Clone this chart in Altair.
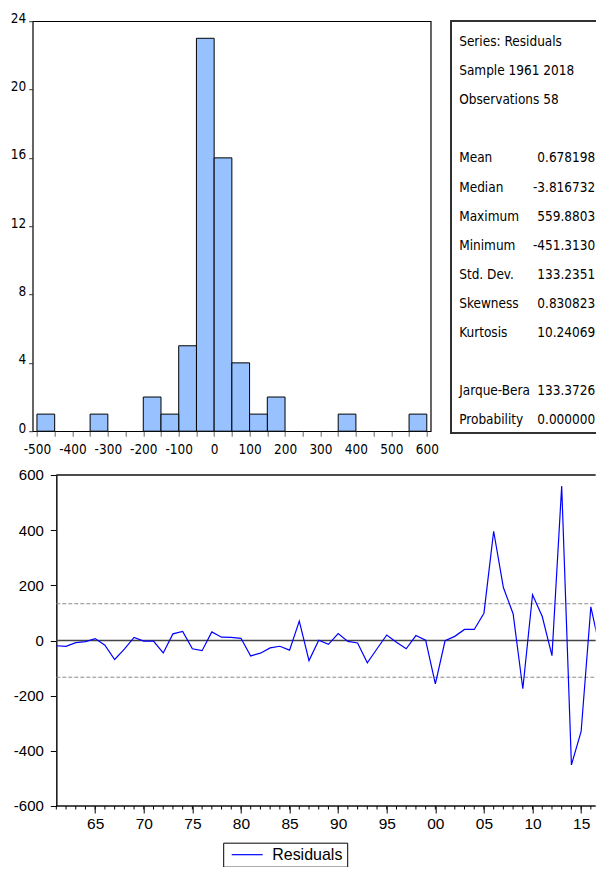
import altair as alt
import pandas as pd

years = list(range(1961, 2019))
residuals = [-19, -21, -8, -4.1, 7, -17, -69, -31, 11, -2,
             -2, -45, 24, 33, -30, -37, 31, 12, 11, 8,
             -56, -46, -27, -21, -35, 70, -73, 1, -14, 25,
             -3.5, -9, -81, -30, 20, -6, -30, 18, 1, -157,
             -1, 15, 40, 40, 99, 396, 192, 97, -175, 166,
             87, -55, 560, -451, -330, 122, -40, -120]

hist_ticks = list(range(-500, 601, 50))
hist_yticks = [0, 4, 8, 12, 16, 20, 24]
line_yticks = [-600, -400, -200, 0, 200, 400, 600]
major_years = [1965, 1970, 1975, 1980, 1985, 1990, 1995, 2000, 2005, 2010, 2015]
minor_years = list(range(1961, 2018))
std_dev = 133.2351

stat_labels = ["Series: Residuals", "Sample 1961 2018", "Observations 58", "",
               "Mean", "Median", "Maximum", "Minimum", "Std. Dev.", "Skewness",
               "Kurtosis", "", "Jarque-Bera", "Probability"]
stat_values = ["", "", "", "", "0.678198", "-3.816732", "559.8803", "-451.3130",
               "133.2351", "0.830823", "10.24069", "", "133.3726", "0.000000"]

NARROW = "DejaVu Sans Condensed, Liberation Sans Narrow, sans-serif"
SANS = "Liberation Sans, Arial, sans-serif"

# ---------- histogram ----------
hist_df = pd.DataFrame({"Residuals": residuals})
hist = alt.Chart(hist_df).transform_bin(
    ["bin_start", "bin_end"], "Residuals", bin=alt.Bin(extent=[-500, 600], step=50)
).transform_aggregate(
    count="count()", groupby=["bin_start", "bin_end"]
).mark_bar(fill="#97C1FF", stroke="black", strokeWidth=1).encode(
    x=alt.X("bin_start:Q", title=None,
            scale=alt.Scale(domain=[-512, 611], nice=False, zero=False),
            axis=alt.Axis(values=hist_ticks, labelExpr="datum.value % 100 == 0 ? toString(datum.value) : ''",
                          labelFont=NARROW, labelFontSize=13.5, labelColor="black",
                          tickColor="#666", tickSize=5, labelPadding=6, domain=False,
                          grid=False, labelOverlap=False, labelFlush=False)),
    x2="bin_end:Q",
    y=alt.Y("count:Q", title=None,
            scale=alt.Scale(domain=[0, 24], nice=False),
            axis=alt.Axis(values=hist_yticks, labelFont=NARROW, labelFontSize=13.5,
                          labelColor="black", tickColor="#333", tickSize=4, labelPadding=3,
                          labelBaseline="middle", labelOffset=-3, domain=False, grid=False,
                          labelFlush=False)),
    y2=alt.datum(0),
).properties(width=398, height=410,
             view=alt.ViewBackground(stroke="black", strokeWidth=1.2))

# ---------- statistics box ----------
SW, SH = 145, 412
stats_df = pd.DataFrame({"row": list(range(len(stat_labels))),
                         "label": stat_labels, "value": stat_values})
stats_base = alt.Chart(stats_df).encode(
    y=alt.Y("row:Q", scale=alt.Scale(domain=[-0.72, 13.45], reverse=True, nice=False, zero=False), axis=None)
)
stats_lab = stats_base.mark_text(align="left", baseline="middle", font=NARROW, fontSize=13.5,
                                 color="black").encode(x=alt.value(8.5), text="label:N")
stats_val = stats_base.mark_text(align="right", baseline="middle", font=NARROW, fontSize=13.5,
                                 color="black").encode(x=alt.value(SW - 0.5), text="value:N")
box_top = alt.Chart(stats_df).mark_rule(color="#333", strokeWidth=1.2).encode(
    x=alt.value(0), x2=alt.value(SW), y=alt.value(0))
box_bot = alt.Chart(stats_df).mark_rule(color="#333", strokeWidth=1.2).encode(
    x=alt.value(0), x2=alt.value(SW), y=alt.value(SH))
box_left = alt.Chart(stats_df).mark_rule(color="#333", strokeWidth=1.2).encode(
    x=alt.value(0), y=alt.value(0), y2=alt.value(SH))
stats = alt.layer(box_top, box_bot, box_left, stats_lab, stats_val).properties(
    width=SW, height=SH, view=alt.ViewBackground(strokeWidth=0, stroke=None))

row1 = alt.hconcat(hist, stats, spacing=20, bounds="flush")

# ---------- residual line ----------
line_df = pd.DataFrame({"Year": years, "Residuals": residuals, "Series": ["Residuals"] * len(years)})
ref_df = pd.DataFrame({"level": [std_dev, -std_dev]})
zero_df = pd.DataFrame({"level": [0]})
border_df = pd.DataFrame({"level": [600, -600]})
minor_df = pd.DataFrame({"Year": minor_years})

LW, LH = 563, 331
X0 = 1958.57
X1 = X0 + LW / 9.719
xscale = alt.Scale(domain=[X0, X1], nice=False, zero=False)
yscale = alt.Scale(domain=[-600, 600], nice=False)

dashed = alt.Chart(ref_df).mark_rule(color="#8c8c8c", strokeWidth=1, strokeDash=[4, 2]).encode(
    y=alt.Y("level:Q", scale=yscale), x=alt.datum(1961), x2=alt.datum(X1))
zero = alt.Chart(zero_df).mark_rule(color="#444", strokeWidth=1.4).encode(
    y=alt.Y("level:Q", scale=yscale), x=alt.datum(1961), x2=alt.datum(X1))
border = alt.Chart(border_df).mark_rule(color="#111", strokeWidth=1.5).encode(
    y=alt.Y("level:Q", scale=yscale), x=alt.datum(1961), x2=alt.datum(X1))
minor = alt.Chart(minor_df).transform_filter(f"datum.Year <= {X1}").mark_rule(color="black", strokeWidth=1).encode(
    x=alt.X("Year:Q", scale=xscale), y=alt.value(LH), y2=alt.value(LH + 3.5))
line = alt.Chart(line_df).mark_line(strokeWidth=1.2, clip=True).encode(
    x=alt.X("Year:Q", title=None, scale=xscale,
            axis=alt.Axis(values=major_years, labelExpr="substring(toString(datum.value), 2)",
                          labelFont=SANS, labelFontSize=15.5, labelColor="black",
                          tickColor="black", tickSize=7, labelPadding=4, domain=False, grid=False)),
    y=alt.Y("Residuals:Q", title=None, scale=yscale,
            axis=alt.Axis(values=line_yticks, labelExpr="toString(datum.value)", offset=-23.62,
                          labelFont=SANS, labelFontSize=15, labelColor="black",
                          tickColor="black", tickSize=6, labelPadding=7, domain=True,
                          domainColor="#111", domainWidth=1.5, grid=False)),
    color=alt.Color("Series:N", scale=alt.Scale(range=["#0000FF"]),
                    legend=alt.Legend(orient="none", legendX=190.5, legendY=821.5, title=None,
                                      symbolType="M-4,0H4", symbolSize=60, symbolStrokeWidth=1.2,
                                      symbolOffset=12, strokeColor="black", fillColor="white", padding=4,
                                      labelFont=SANS, labelFontSize=16, labelColor="black",
                                      labelExpr="datum.label + ' '",
                                      labelOffset=17, cornerRadius=0)),
)
line_chart = alt.layer(dashed, zero, border, line, minor).properties(
    width=LW, height=LH, view=alt.ViewBackground(strokeWidth=0, stroke=None))

chart = alt.vconcat(row1, line_chart, spacing=10.8).properties(
    padding={"left": 0.7, "top": 2.2, "right": 0, "bottom": 0}
).configure(background="white")

chart.save("out.html", embed_options={"renderer": "svg", "actions": False})
